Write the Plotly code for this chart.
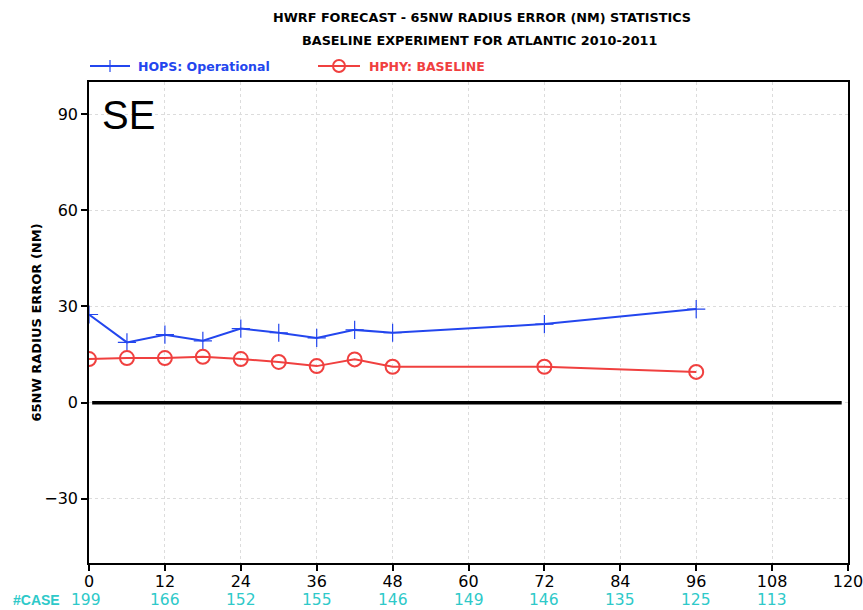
import plotly.graph_objects as go

# Forecast lead times (h) and mean 65NW radius errors (nm)
lead_hours = [0, 6, 12, 18, 24, 30, 36, 42, 48, 72, 96]
hops_err = [27.5, 18.8, 21.2, 19.3, 23.1, 21.8, 20.2, 22.7, 21.8, 24.5, 29.2]
hphy_err = [13.6, 13.9, 13.9, 14.3, 13.6, 12.7, 11.4, 13.5, 11.2, 11.2, 9.6]

# Verification sample size per 12-h lead time
case_hours = [0, 12, 24, 36, 48, 60, 72, 84, 96, 108]
case_counts = [199, 166, 152, 155, 146, 149, 146, 135, 125, 113]

x_ticks = list(range(0, 121, 12))
y_ticks = [-30, 0, 30, 60, 90]

BLUE = "#2346ee"
RED = "#f0403f"
CYAN = "#2ec9c9"
FONT = "DejaVu Sans"
SANS = "Liberation Sans"

fig = go.Figure()

fig.add_trace(go.Scatter(
    x=lead_hours, y=hops_err, mode="lines+markers", name="HOPS: Operational",
    line=dict(color=BLUE, width=2),
    marker=dict(symbol="cross-thin", size=13, line=dict(color=BLUE, width=1.2)),
    showlegend=False,
))
fig.add_trace(go.Scatter(
    x=lead_hours, y=hphy_err, mode="lines+markers", name="HPHY: BASELINE",
    line=dict(color=RED, width=2),
    marker=dict(symbol="circle-open", size=14, line=dict(color=RED, width=2)),
    showlegend=False,
))

# Thick zero reference line
fig.add_shape(type="line", xref="x", yref="y", x0=0.5, x1=119, y0=0, y1=0,
              line=dict(color="black", width=3.5))

annotations = []
# Titles
annotations.append(dict(text="<b>HWRF FORECAST - 65NW RADIUS ERROR (NM) STATISTICS</b>",
                        xref="paper", yref="paper", x=0.518, y=1.0, yshift=65,
                        showarrow=False, font=dict(family=FONT, size=12.8, color="black"),
                        xanchor="center", yanchor="middle"))
annotations.append(dict(text="<b>BASELINE EXPERIMENT FOR ATLANTIC 2010-2011</b>",
                        xref="paper", yref="paper", x=0.514, y=1.0, yshift=42,
                        showarrow=False, font=dict(family=FONT, size=12.8, color="black"),
                        xanchor="center", yanchor="middle"))

# Hand-drawn legend
leg_y = 16  # pixels above plot top
annotations.append(dict(text="<b>HOPS: Operational</b>", xref="paper", yref="paper",
                        x=0, y=1.0, xshift=47, yshift=leg_y, showarrow=False,
                        xanchor="left", yanchor="middle",
                        font=dict(family=FONT, size=12.5, color=BLUE)))
annotations.append(dict(text="<b>HPHY: BASELINE</b>", xref="paper", yref="paper",
                        x=0, y=1.0, xshift=278, yshift=leg_y, showarrow=False,
                        xanchor="left", yanchor="middle",
                        font=dict(family=FONT, size=12.5, color=RED)))

# "SE" panel label
annotations.append(dict(text="SE", xref="paper", yref="paper", x=0, y=1.0,
                        xshift=11, yshift=-33, showarrow=False, xanchor="left",
                        yanchor="middle", font=dict(family=SANS, size=40, color="black")))

# Case counts row
annotations.append(dict(text="<b>#CASE</b>", xref="paper", yref="paper", x=0, y=0,
                        xshift=-78, yshift=-37, showarrow=False, xanchor="left",
                        yanchor="middle", font=dict(family=SANS, size=14, color=CYAN)))
for h, n in zip(case_hours, case_counts):
    annotations.append(dict(text=str(n), xref="x", yref="paper", x=h, y=0,
                            yshift=-37, xshift=-3 if h == 0 else 0,
                            showarrow=False, xanchor="center",
                            yanchor="middle", font=dict(family=FONT, size=15.5, color=CYAN)))

fig.update_layout(annotations=annotations)

# Legend glyphs drawn in pixel space anchored to the paper
def legend_line(x0, x1, color):
    fig.add_shape(type="line", xref="paper", yref="paper", xsizemode="pixel",
                  ysizemode="pixel", xanchor=0, yanchor=1.0,
                  x0=x0, x1=x1, y0=leg_y, y1=leg_y, line=dict(color=color, width=2))

legend_line(1, 41, BLUE)
fig.add_shape(type="line", xref="paper", yref="paper", xsizemode="pixel",
              ysizemode="pixel", xanchor=0, yanchor=1.0,
              x0=21, x1=21, y0=leg_y - 6, y1=leg_y + 6, line=dict(color=BLUE, width=1.2))
legend_line(229, 271, RED)
fig.add_shape(type="circle", xref="paper", yref="paper", xsizemode="pixel",
              ysizemode="pixel", xanchor=0, yanchor=1.0,
              x0=244, x1=256, y0=leg_y - 6, y1=leg_y + 6,
              line=dict(color=RED, width=2))

axis_common = dict(ticks="outside", ticklen=6, tickwidth=1.5, tickcolor="black",
                   showline=True, linecolor="black", linewidth=1.5, mirror=True,
                   showgrid=True, gridcolor="#dcdcdc", griddash="dot", gridwidth=1,
                   zeroline=False, automargin=False, ticklabeloverflow="allow",
                   tickfont=dict(family=FONT, size=16, color="black"))

fig.update_layout(
    width=863, height=610,
    margin=dict(l=89, r=15, t=82, b=47),
    plot_bgcolor="white", paper_bgcolor="white",
    font=dict(family=FONT, color="black"),
    xaxis=dict(range=[0, 120], tickvals=x_ticks, ticklabelstandoff=-3, **axis_common),
    yaxis=dict(range=[-50, 100], tickvals=y_ticks, **axis_common,
               title=dict(text="<b>65NW RADIUS ERROR (NM)</b>", standoff=0,
                          font=dict(family=FONT, size=13, color="black"))),
)

fig.write_html("out.html")
